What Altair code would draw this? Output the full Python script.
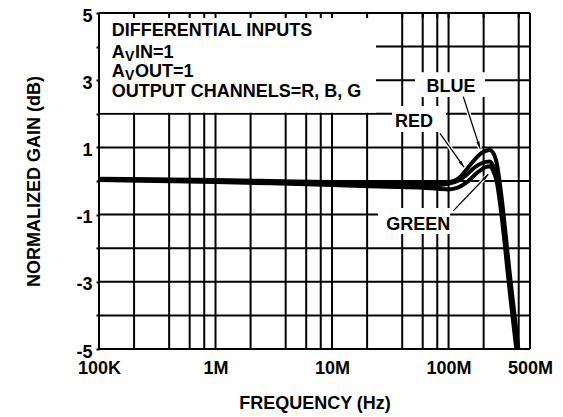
import math
import altair as alt
import pandas as pd

# ---------------- data ----------------
freq_hz = [1e5, 3e5, 1e6, 3e6, 1e7, 3e7, 6e7, 8e7, 1e8, 1.2e8, 1.38e8, 1.55e8, 1.7e8,
           1.9e8, 2.1e8, 2.25e8, 2.4e8, 2.6e8, 2.75e8, 2.9e8, 3.05e8, 3.2e8, 3.4e8,
           3.6e8, 3.8e8, 4.0e8, 4.2e8]
blue_db = [0.07, 0.05, 0.03, 0.0, -0.03, -0.05, -0.05, -0.05, -0.04, 0.06, 0.28, 0.5, 0.66,
           0.82, 0.9, 0.92, 0.85, 0.5, -0.05, -0.7, -1.4, -2.1, -2.95,
           -3.7, -4.4, -5.1, -5.8]
red_db = [0.05, 0.03, 0.0, -0.03, -0.07, -0.1, -0.11, -0.12, -0.08, 0.0, 0.14, 0.3, 0.42,
          0.52, 0.57, 0.58, 0.47, 0.1, -0.4, -1.05, -1.75, -2.45, -3.3,
          -4.05, -4.75, -5.45, -6.1]
green_db = [0.03, 0.0, -0.03, -0.07, -0.12, -0.17, -0.2, -0.23, -0.25, -0.2, -0.08, 0.06, 0.2,
            0.33, 0.42, 0.44, 0.32, -0.05, -0.6, -1.25, -1.95, -2.65, -3.5,
            -4.25, -4.95, -5.6, -6.3]

x_grid_hz = [2e5, 4e5, 6e5, 8e5, 1e6, 2e6, 4e6, 6e6, 8e6, 1e7, 2e7, 4e7, 6e7, 8e7, 1e8, 2e8, 4e8]
y_grid_db = [-4, -3, -2, -1, 0, 1, 2, 3, 4]

x_tick_hz = [1e5, 1e6, 1e7, 1e8, 5e8]
x_tick_labels = ["100K", "1M", "10M", "100M", "500M"]
y_tick_db = [-5, -4, -3, -2, -1, 0, 1, 2, 3, 4, 5]
y_label_db = [-5, -3, -1, 1, 3, 5]
y_label_text = ["-5", "-3", "-1", "1", "3", "5"]

# annotation block (top-left)
note_text = ["DIFFERENTIAL INPUTS", "A", "A", "OUTPUT CHANNELS=R, B, G"]
note_db = [4.32, 3.67, 3.10, 2.51]
note_hz = 1.285e5
sub_text = ["V", "V"]
sub_db = [3.67, 3.10]
rest_text = ["IN=1", "OUT=1"]

# series labels
series_labels = ["BLUE", "RED", "GREEN"]
label_hz = [1.05e8, 5.05e7, 5.5e7]
label_db = [2.66, 1.62, -1.46]

# white boxes behind annotation texts
box_hz1 = [1e5, 5.15e7, 3.27e7, 2.48e7]
box_hz2 = [2.384e7, 2.055e8, 9.5e7, 1.03e8]
box_db1 = [2.03, 2.5, 1.46, -1.58]
box_db2 = [5.0, 3.24, 2.23, -0.80]

# arrows (label -> curve)
arrow_start_hz = [1.338e8, 8.44e7, 1.098e8]
arrow_start_db = [2.51, 1.42, -0.89]
arrow_tip_hz = [1.861e8, 1.357e8, 2.193e8]
arrow_tip_db = [0.97, 0.41, 0.20]

# ---------------- layout ----------------
W, H = 431, 336
X_DOMAIN = [1e5, 5e8]
Y_DOMAIN = [-5, 5]
FONT = "Liberation Sans"
FS = 18
PX_PER_DEC = W / math.log10(X_DOMAIN[1] / X_DOMAIN[0])
PX_PER_DB = H / (Y_DOMAIN[1] - Y_DOMAIN[0])

xscale = alt.Scale(type="log", domain=X_DOMAIN, nice=False)
yscale = alt.Scale(domain=Y_DOMAIN, nice=False, zero=False)

x_label_expr = " : ".join(
    f"datum.value == {v} ? '{l}'" for v, l in zip(x_tick_hz, x_tick_labels)) + " : ''"
y_label_expr = " : ".join(
    f"datum.value == {v} ? '{l}'" for v, l in zip(y_label_db, y_label_text)) + " : ''"

xaxis = alt.Axis(values=x_tick_hz, labelExpr=x_label_expr, ticks=False, domain=False,
                 grid=False, labelFont=FONT, labelFontSize=FS, labelFontWeight="bold",
                 labelColor="black", labelPadding=10, labelFlush=False, labelOverlap=False,
                 title="FREQUENCY (Hz)", titleFont=FONT, titleFontSize=FS,
                 titleFontWeight="bold", titleColor="black", titleY=59,
                 titleBaseline="alphabetic", zindex=1)
yaxis = alt.Axis(values=y_tick_db, labelExpr=y_label_expr, ticks=True, tickSize=3,
                 tickWidth=2, tickColor="black", domain=False, grid=False,
                 labelFont=FONT, labelFontSize=FS, labelFontWeight="bold",
                 labelColor="black", labelPadding=4, labelFlush=False,
                 labelOverlap=False, labelOffset=3,
                 title="NORMALIZED GAIN (dB)", titleFont=FONT, titleFontSize=FS,
                 titleFontWeight="bold", titleColor="black", titleX=-60, titleY=H / 2,
                 titleAngle=270, titleAlign="center", titleBaseline="alphabetic",
                 zindex=1)


def X(field="f"):
    return alt.X(f"{field}:Q", scale=xscale, axis=xaxis)


def Y(field="v"):
    return alt.Y(f"{field}:Q", scale=yscale, axis=yaxis)


# ---------------- tables ----------------
curves = pd.DataFrame(
    [{"f": f, "v": v, "s": "GREEN"} for f, v in zip(freq_hz, green_db)]
    + [{"f": f, "v": v, "s": "RED"} for f, v in zip(freq_hz, red_db)]
    + [{"f": f, "v": v, "s": "BLUE"} for f, v in zip(freq_hz, blue_db)]
)
vgrid = pd.DataFrame({"f": x_grid_hz})
hgrid = pd.DataFrame({"v": y_grid_db})
frame_v = pd.DataFrame({"f": X_DOMAIN})
frame_h = pd.DataFrame({"v": Y_DOMAIN})
top_ticks = pd.DataFrame({"f": x_grid_hz, "v": [Y_DOMAIN[1]] * len(x_grid_hz),
                          "v2": [Y_DOMAIN[1] - 5 / PX_PER_DB] * len(x_grid_hz)})
boxes = pd.DataFrame({"f": box_hz1, "f2": box_hz2, "v": box_db1, "v2": box_db2})

angles = []
for f0, v0, f1, v1 in zip(arrow_start_hz, arrow_start_db, arrow_tip_hz, arrow_tip_db):
    dx = (math.log10(f1) - math.log10(f0)) * PX_PER_DEC
    dy = -(v1 - v0) * PX_PER_DB
    angles.append(math.degrees(math.atan2(dx, -dy)) % 360)
arrows = pd.DataFrame({"f": arrow_start_hz, "v": arrow_start_db,
                       "f2": arrow_tip_hz, "v2": arrow_tip_db})
heads = pd.DataFrame({"f": arrow_tip_hz, "v": arrow_tip_db, "a": angles})

notes = pd.DataFrame({"f": [note_hz] * len(note_text), "v": note_db, "t": note_text})
subs = pd.DataFrame({"f": [note_hz] * len(sub_text), "v": sub_db, "t": sub_text})
rests = pd.DataFrame({"f": [note_hz] * len(rest_text), "v": sub_db, "t": rest_text})
labels = pd.DataFrame({"f": label_hz, "v": label_db, "t": series_labels})

# ---------------- layers ----------------
grid_v = alt.Chart(vgrid).mark_rule(color="black", strokeWidth=2).encode(x=X())
grid_h = alt.Chart(hgrid).mark_rule(color="black", strokeWidth=2).encode(y=Y())
white = alt.Chart(boxes).mark_rect(fill="white").encode(
    x=X(), x2="f2:Q", y=Y(), y2="v2:Q")
frame1 = alt.Chart(frame_v).mark_rule(color="black", strokeWidth=2).encode(x=X())
frame2 = alt.Chart(frame_h).mark_rule(color="black", strokeWidth=2).encode(y=Y())
tticks = alt.Chart(top_ticks).mark_rule(color="black", strokeWidth=2).encode(
    x=X(), y=Y(), y2="v2:Q")

halo = alt.Chart(arrows).mark_rule(color="white", strokeWidth=4).encode(
    x=X(), y=Y(), x2="f2:Q", y2="v2:Q")
shaft = alt.Chart(arrows).mark_rule(color="black", strokeWidth=1.3).encode(
    x=X(), y=Y(), x2="f2:Q", y2="v2:Q")
head = alt.Chart(heads).mark_point(
    shape="M0,0L-0.55,2.3L0.55,2.3Z", filled=True, color="black", size=36, opacity=1
).encode(x=X(), y=Y(), angle=alt.Angle("a:Q", scale=None))

lines = alt.Chart(curves).mark_line(color="black", strokeWidth=4, clip=True,
                                    interpolate="monotone").encode(
    x=X(), y=Y(), detail="s:N")

txt_kw = dict(font=FONT, fontWeight="bold", color="black", baseline="alphabetic")
note_layer = alt.Chart(notes).mark_text(align="left", fontSize=FS, **txt_kw).encode(
    x=X(), y=Y(), text="t:N")
sub_layer = alt.Chart(subs).mark_text(align="left", fontSize=14, dx=13.3, dy=3,
                                      **txt_kw).encode(x=X(), y=Y(), text="t:N")
rest_layer = alt.Chart(rests).mark_text(align="left", fontSize=FS, dx=23.3,
                                        **txt_kw).encode(x=X(), y=Y(), text="t:N")
label_layer = alt.Chart(labels).mark_text(align="center", fontSize=FS, **txt_kw).encode(
    x=X(), y=Y(), text="t:N")

chart = alt.layer(
    grid_v, grid_h, white, frame1, frame2, tticks,
    halo, shaft, head, lines,
    note_layer, sub_layer, rest_layer, label_layer,
).properties(
    width=W, height=H,
    padding={"left": 91, "top": 5, "right": 25, "bottom": 68},
    autosize=alt.AutoSizeParams(type="none"),
    background="white",
).configure_view(strokeWidth=0)

chart.save("out.html", embed_options={"renderer": "svg", "actions": False})
